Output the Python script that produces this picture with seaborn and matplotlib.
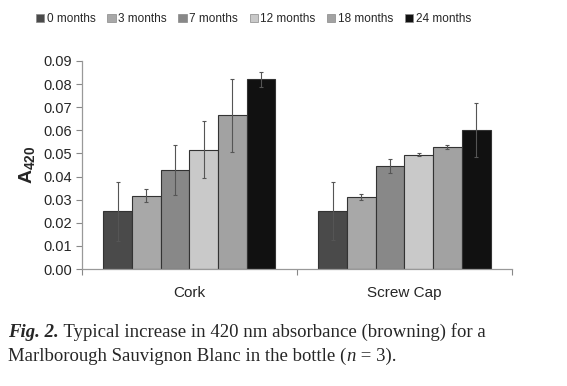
import pandas as pd
import numpy as np
import matplotlib
matplotlib.use('Agg')
import matplotlib.pyplot as plt
import seaborn as sns

closures = ['Cork', 'Screw Cap']
months = ['0 months', '3 months', '7 months', '12 months', '18 months', '24 months']
cork_vals = [0.0250, 0.0318, 0.0428, 0.0517, 0.0665, 0.0820]
cork_err = [0.0127, 0.0030, 0.0108, 0.0122, 0.0158, 0.0033]
screw_vals = [0.0250, 0.0312, 0.0445, 0.0495, 0.0528, 0.0602]
screw_err = [0.0126, 0.0012, 0.0030, 0.0005, 0.0008, 0.0118]
colors = ['#4a4a4a', '#a8a8a8', '#888888', '#c9c9c9', '#a2a2a2', '#111111']

sns.set_theme(style='white')
plt.rcParams['font.family'] = ['Liberation Sans', 'DejaVu Sans']
plt.rcParams['mathtext.fontset'] = 'custom'
plt.rcParams['mathtext.bf'] = 'Liberation Sans:bold'
plt.rcParams['mathtext.rm'] = 'Liberation Sans'

df = pd.DataFrame({
    'closure': np.repeat(closures, len(months)),
    'months': months * 2,
    'a420': cork_vals + screw_vals,
    'err': cork_err + screw_err,
})

fig = plt.figure(figsize=(5.67, 3.86), dpi=100)
ax = fig.add_axes([0.1446, 0.3031, 0.7584, 0.5389])

sns.barplot(data=df, x='closure', y='a420', hue='months', hue_order=months,
            palette=colors, errorbar=None, width=0.8, edgecolor='#333333',
            linewidth=0.8, saturation=1, ax=ax)

# error bars at the bar centres
bars = list(ax.containers)
for i, cont in enumerate(bars):
    sub = df[df['months'] == months[i]]
    xs = [p.get_x() + p.get_width() / 2 for p in cont.patches]
    ax.errorbar(xs, sub['a420'].values, yerr=sub['err'].values, fmt='none',
                ecolor='#555555', elinewidth=0.8, capsize=1.5, capthick=0.8)

ax.set_ylim(0, 0.09)
ax.set_xlim(-0.5, 1.5)
ax.set_yticks(np.arange(0, 0.0901, 0.01))
ax.set_yticklabels(['%.2f' % v for v in np.arange(0, 0.0901, 0.01)], fontsize=10.5)
ax.set_xticks([0, 1])
ax.set_xticklabels(closures, fontsize=11)
ax.set_xticks([-0.5, 0.5, 1.5], minor=True)
ax.tick_params(axis='x', which='major', length=0, pad=12)
ax.tick_params(axis='x', which='minor', length=4, width=0.8, color='#888888', direction='out', bottom=True)
ax.tick_params(axis='y', length=4, width=0.8, color='#888888', direction='out', left=True, pad=3)
ax.set_xlabel('')
ax.set_ylabel(r'$\mathbf{A_{420}}$', fontsize=14, labelpad=5)
sns.despine(ax=ax)
for s in ['left', 'bottom']:
    ax.spines[s].set_color('#999999')
    ax.spines[s].set_linewidth(0.9)

ax.legend_.remove()
handles = [plt.Rectangle((0, 0), 1, 1, facecolor=c, edgecolor='#888888', linewidth=0.5) for c in colors]
fig.legend(handles, months, loc='center', bbox_to_anchor=(0.447, 0.951), ncol=6,
           frameon=False, fontsize=8.5, handlelength=0.7, handleheight=0.7,
           handletextpad=0.2, columnspacing=1.0)

# caption with mixed styles
serif = ['Liberation Serif', 'DejaVu Serif']
def place(pieces, x, y):
    r = fig.canvas.get_renderer()
    for txt, kw in pieces:
        t = fig.text(x, y, txt, family=serif, fontsize=13.5, va='baseline', ha='left', **kw)
        bb = t.get_window_extent(renderer=r)
        x = x + bb.width / fig.bbox.width

place([('Fig. 2.', dict(weight='bold', style='italic')),
       (' Typical increase in 420 nm absorbance (browning) for a', {})], 0.014, 1 - 337 / 386)
place([('Marlborough Sauvignon Blanc in the bottle (', {}),
       ('n', dict(style='italic')),
       (' = 3).', {})], 0.014, 1 - 361 / 386)

fig.savefig('out.png', dpi=100)
